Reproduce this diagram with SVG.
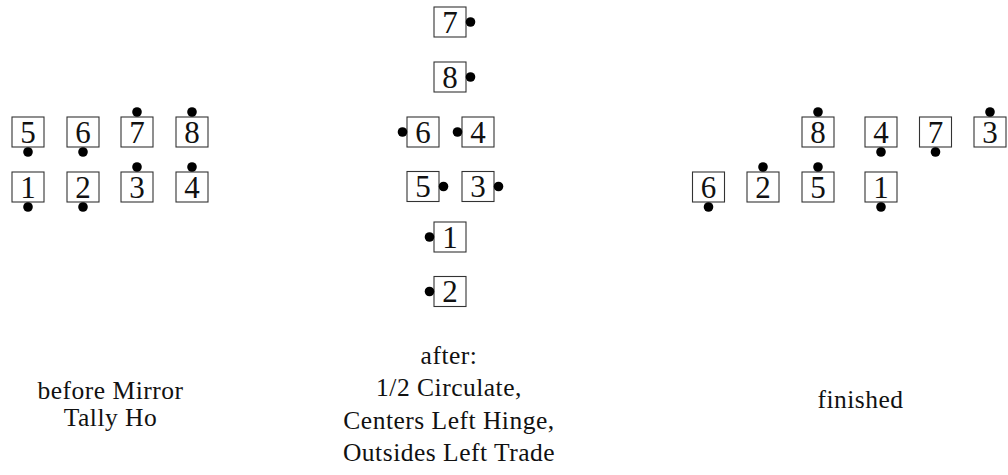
<svg xmlns="http://www.w3.org/2000/svg" width="1008" height="475" viewBox="0 0 1008 475">
<style>
.b{fill:#fff;stroke:#333;stroke-width:1.1}
.n{font-family:"Liberation Serif","Times New Roman",serif;font-size:31px;fill:#111;text-anchor:middle}
.d{fill:#000}
.l{font-family:"Liberation Serif","Times New Roman",serif;font-size:25.5px;letter-spacing:0.5px;fill:#111;text-anchor:middle}
</style>
<defs>
<g id="box"><rect class="b" x="0" y="0" width="32" height="30"/></g>
</defs>
<rect width="1008" height="475" fill="#fff"/>
<g id="connectors"/>
<g id="before">
<g id="b5"><use href="#box" x="12" y="117"/><text class="n" x="28" y="142.5">5</text><circle class="d" cx="28" cy="152" r="4.8"/></g>
<g id="b6"><use href="#box" x="67" y="117"/><text class="n" x="83" y="142.5">6</text><circle class="d" cx="83" cy="152" r="4.8"/></g>
<g id="b7"><use href="#box" x="121" y="117"/><text class="n" x="137" y="142.5">7</text><circle class="d" cx="137" cy="112" r="4.8"/></g>
<g id="b8"><use href="#box" x="176" y="117"/><text class="n" x="192" y="142.5">8</text><circle class="d" cx="192" cy="112" r="4.8"/></g>
<g id="b1"><use href="#box" x="12" y="172"/><text class="n" x="28" y="197.5">1</text><circle class="d" cx="28" cy="207" r="4.8"/></g>
<g id="b2"><use href="#box" x="67" y="172"/><text class="n" x="83" y="197.5">2</text><circle class="d" cx="83" cy="207" r="4.8"/></g>
<g id="b3"><use href="#box" x="121" y="172"/><text class="n" x="137" y="197.5">3</text><circle class="d" cx="137" cy="167" r="4.8"/></g>
<g id="b4"><use href="#box" x="176" y="172"/><text class="n" x="192" y="197.5">4</text><circle class="d" cx="192" cy="167" r="4.8"/></g>
</g>
<g id="after">
<g id="a7"><use href="#box" x="434" y="7"/><text class="n" x="450" y="32.5">7</text><circle class="d" cx="470.5" cy="22" r="4.8"/></g>
<g id="a8"><use href="#box" x="434" y="62"/><text class="n" x="450" y="87.5">8</text><circle class="d" cx="470.5" cy="77" r="4.8"/></g>
<g id="a6"><use href="#box" x="407" y="117"/><text class="n" x="423" y="142.5">6</text><circle class="d" cx="402.5" cy="132" r="4.8"/></g>
<g id="a4"><use href="#box" x="462" y="117"/><text class="n" x="478" y="142.5">4</text><circle class="d" cx="457.5" cy="132" r="4.8"/></g>
<g id="a5"><use href="#box" x="407" y="171.5"/><text class="n" x="423" y="197">5</text><circle class="d" cx="443.5" cy="186.5" r="4.8"/></g>
<g id="a3"><use href="#box" x="462" y="171.5"/><text class="n" x="478" y="197">3</text><circle class="d" cx="498.5" cy="186.5" r="4.8"/></g>
<g id="a1"><use href="#box" x="434" y="222"/><text class="n" x="450" y="247.5">1</text><circle class="d" cx="429.5" cy="237" r="4.8"/></g>
<g id="a2"><use href="#box" x="434" y="276.5"/><text class="n" x="450" y="302">2</text><circle class="d" cx="429.5" cy="291.5" r="4.8"/></g>
</g>
<g id="finished">
<g id="f8"><use href="#box" x="802" y="117"/><text class="n" x="818" y="142.5">8</text><circle class="d" cx="818" cy="112" r="4.8"/></g>
<g id="f4"><use href="#box" x="865" y="117"/><text class="n" x="881" y="142.5">4</text><circle class="d" cx="881" cy="152" r="4.8"/></g>
<g id="f7"><use href="#box" x="919.5" y="117"/><text class="n" x="935.5" y="142.5">7</text><circle class="d" cx="935.5" cy="152" r="4.8"/></g>
<g id="f3"><use href="#box" x="974" y="117"/><text class="n" x="990" y="142.5">3</text><circle class="d" cx="990" cy="112" r="4.8"/></g>
<g id="f6"><use href="#box" x="692.5" y="172"/><text class="n" x="708.5" y="197.5">6</text><circle class="d" cx="708.5" cy="207" r="4.8"/></g>
<g id="f2"><use href="#box" x="747" y="172"/><text class="n" x="763" y="197.5">2</text><circle class="d" cx="763" cy="167" r="4.8"/></g>
<g id="f5"><use href="#box" x="802" y="172"/><text class="n" x="818" y="197.5">5</text><circle class="d" cx="818" cy="167" r="4.8"/></g>
<g id="f1"><use href="#box" x="865" y="172"/><text class="n" x="881" y="197.5">1</text><circle class="d" cx="881" cy="207" r="4.8"/></g>
</g>
<g id="labels">
<text class="l" x="110.5" y="399">before Mirror</text>
<text class="l" x="110.5" y="426">Tally Ho</text>
<text class="l" x="449" y="364">after:</text>
<text class="l" x="449" y="396">1/2 Circulate,</text>
<text class="l" x="449" y="429">Centers Left Hinge,</text>
<text class="l" x="449" y="461">Outsides Left Trade</text>
<text class="l" x="860.5" y="408">finished</text>
</g>
</svg>
